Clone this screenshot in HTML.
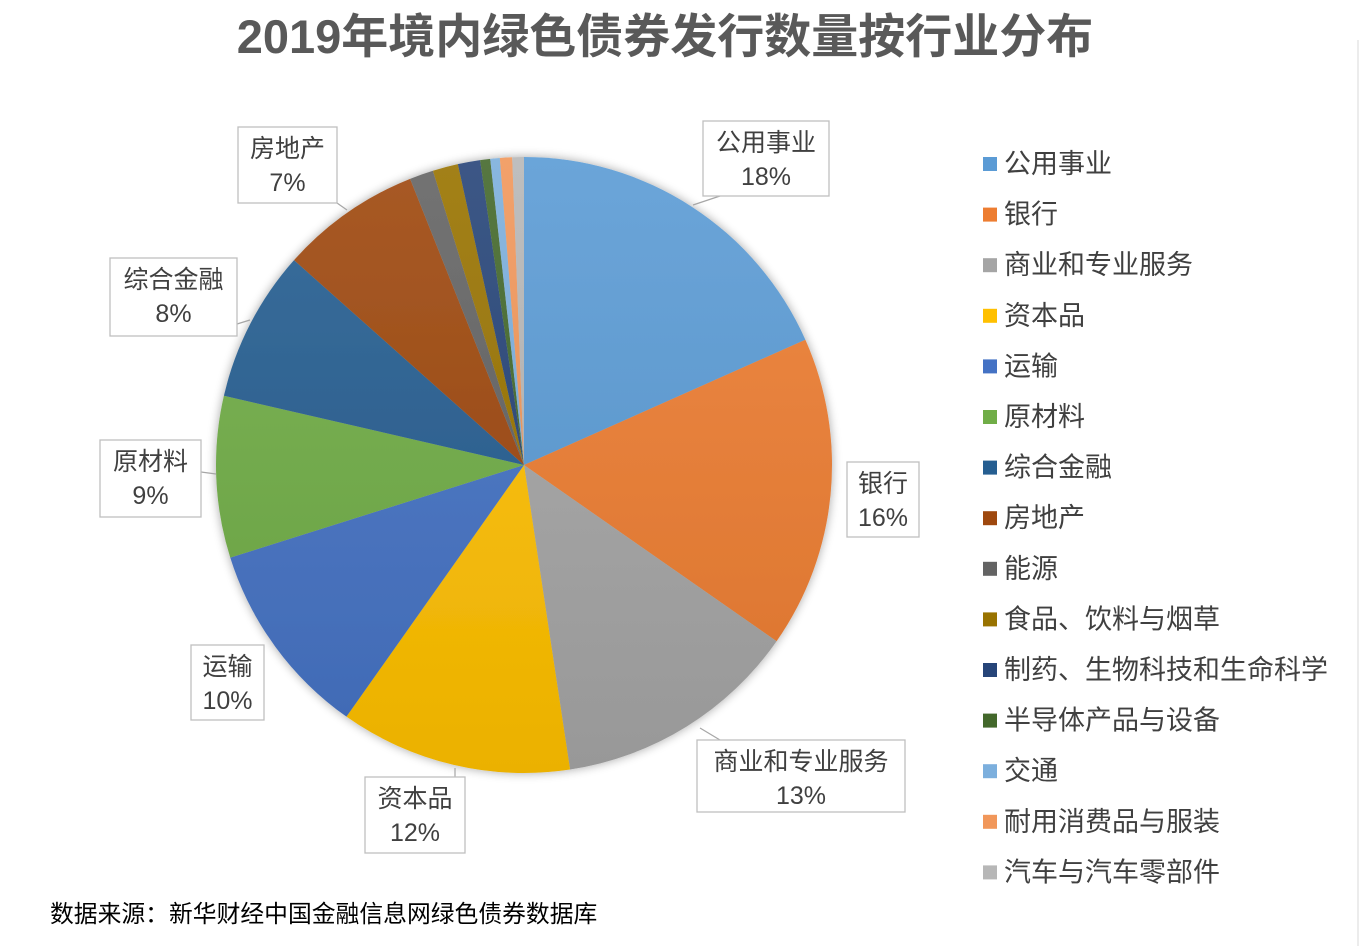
<!DOCTYPE html>
<html><head><meta charset="utf-8"><style>
body{margin:0;background:#fff;width:1363px;height:946px;overflow:hidden;font-family:"Liberation Sans","Noto Sans CJK SC",sans-serif;}
</style></head><body>
<svg id="s" width="1363" height="946" xmlns="http://www.w3.org/2000/svg" style="position:absolute;left:0;top:0">
<defs>
<filter id="sh" x="-10%" y="-10%" width="120%" height="120%"><feGaussianBlur in="SourceAlpha" stdDeviation="5"/><feOffset dx="0" dy="0"/><feComponentTransfer><feFuncA type="linear" slope="0.35"/></feComponentTransfer><feMerge><feMergeNode/><feMergeNode in="SourceGraphic"/></feMerge></filter>
</defs>
<line x1="1358" y1="40" x2="1358" y2="946" stroke="#d9d9d9" stroke-width="1"/>
<text x="665" y="53" text-anchor="middle" font-size="47" font-weight="bold" fill="#595959" font-family="Liberation Sans,Noto Sans CJK SC,sans-serif">2019年境内绿色债券发行数量按行业分布</text>
<g id="pie" filter="url(#sh)"></g>
<g id="lab" font-size="25" fill="#404040" font-family="Liberation Sans,Noto Sans CJK SC,sans-serif"></g>
<g id="leg" font-size="27" fill="#404040" font-family="Liberation Sans,Noto Sans CJK SC,sans-serif"></g>
<text x="50" y="922" font-size="23.8" fill="#000" font-family="Liberation Sans,Noto Sans CJK SC,sans-serif">数据来源：新华财经中国金融信息网绿色债券数据库</text>
</svg>
<script>
var NS="http://www.w3.org/2000/svg";
var cx=524,cy=465,r=308;
var names=["公用事业","银行","商业和专业服务","资本品","运输","原材料","综合金融","房地产","能源","食品、饮料与烟草","制药、生物科技和生命科学","半导体产品与设备","交通","耐用消费品与服装","汽车与汽车零部件"];
var cols=["#5B9BD5","#ED7D31","#A5A5A5","#FFC000","#4472C4","#70AD47","#255E91","#9E480E","#636363","#997300","#264478","#43682B","#7CAFDD","#F1975A","#B7B7B7"];
var ends=[66,124.9,171.4,215.2,252.5,283,311.7,338.3,342.8,347.6,351.8,353.7,355.5,357.8,360];
function shade(h,f){var n=parseInt(h.slice(1),16),R=n>>16,G=(n>>8)&255,B=n&255;
 function c(v){return Math.max(0,Math.min(255,Math.round(f>0?v+(255-v)*f:v*(1+f))));}
 return "rgb("+c(R)+","+c(G)+","+c(B)+")";}
var defs=document.querySelector("defs"),pie=document.getElementById("pie");
var a0=0;
for(var i=0;i<15;i++){
 var g=document.createElementNS(NS,"linearGradient");g.setAttribute("id","g"+i);
 g.setAttribute("gradientUnits","userSpaceOnUse");g.setAttribute("x1",0);g.setAttribute("y1",cy-r);g.setAttribute("x2",0);g.setAttribute("y2",cy+r);
 g.innerHTML='<stop offset="0" stop-color="'+shade(cols[i],0.1)+'"/><stop offset="1" stop-color="'+shade(cols[i],-0.08)+'"/>';
 defs.appendChild(g);
 var a1=ends[i],t0=a0*Math.PI/180,t1=a1*Math.PI/180;
 var x0=cx+r*Math.sin(t0),y0=cy-r*Math.cos(t0),x1=cx+r*Math.sin(t1),y1=cy-r*Math.cos(t1);
 var p=document.createElementNS(NS,"path");
 p.setAttribute("d","M"+cx+","+cy+"L"+x0+","+y0+"A"+r+","+r+" 0 "+((a1-a0)>180?1:0)+" 1 "+x1+","+y1+"Z");
 p.setAttribute("fill","url(#g"+i+")");pie.appendChild(p);
 a0=a1;
}
var lab=document.getElementById("lab");
var L=[["公用事业","18%",703,121,126,75,[[720,196],[693,205]]],
["银行","16%",847,462,72,75,[]],
["商业和专业服务","13%",697,740,208,72,[[720,740],[700,728]]],
["资本品","12%",365,777,100,76,[[455,777],[455,768]]],
["运输","10%",191,645,73,75,[]],
["原材料","9%",100,440,101,77,[[201,472],[216,474]]],
["综合金融","8%",110,258,127,78,[[237,324],[250,320]]],
["房地产","7%",238,127,99,76,[[337,203],[347,210]]]];
var h="";
L.forEach(function(b){
 if(b[6].length)h+='<polyline points="'+b[6].map(function(p){return p.join(",")}).join(" ")+'" fill="none" stroke="#a6a6a6" stroke-width="1.2"/>';
 h+='<rect x="'+b[2]+'" y="'+b[3]+'" width="'+b[4]+'" height="'+b[5]+'" fill="#fff" stroke="#bfbfbf" stroke-width="1.3"/>';
 var mx=b[2]+b[4]/2;
 h+='<text x="'+mx+'" y="'+(b[3]+30)+'" text-anchor="middle">'+b[0]+'</text>';
 h+='<text x="'+mx+'" y="'+(b[3]+64)+'" text-anchor="middle">'+b[1]+'</text>';
});
lab.innerHTML=h;
var leg=document.getElementById("leg"),lh="";
for(var i=0;i<15;i++){var y=164+i*50.6;
 lh+='<rect x="983" y="'+(y-7)+'" width="14" height="14" fill="'+cols[i]+'"/>';
 lh+='<text x="1004" y="'+(y+9)+'">'+names[i]+'</text>';}
leg.innerHTML=lh;
</script>
</body></html>
